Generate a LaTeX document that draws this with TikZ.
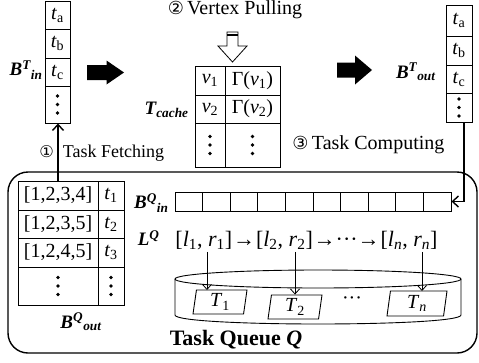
\documentclass[tikz,border=0pt]{standalone}
\usepackage{fontspec}
\setmainfont{Liberation Serif}
\newfontfamily\circfont[Scale=0.9]{DejaVu Sans}
\usetikzlibrary{arrows.meta,shapes.geometric}
\newcommand\fsz[1]{\fontsize{#1}{#1}\selectfont}
\newcommand\tsub[2]{\textit{#1}\textsubscript{#2}}
\tikzset{
  cell/.style 2 args={draw, inner sep=0pt, minimum width=#1, minimum height=#2, anchor=center, font=\fsz{20}},
  lbl/.style={inner sep=0pt, font=\fsz{19}\bfseries\itshape},
  arr/.style={-{Straight Barb[length=5pt,width=9pt]}, line width=0.8pt},
  barr/.style={-{Straight Barb[length=6pt,width=11pt]}, line width=1.4pt},
  task/.style={draw, trapezium, trapezium left angle=78, trapezium right angle=102, trapezium stretches body, inner sep=0pt, font=\fsz{20}},
}
\newcommand\vdts[1]{\fill (#1) ++(0,-8.5) circle (1.8pt) (#1) circle (1.8pt) (#1) ++(0,8.5) circle (1.8pt);}
\begin{document}
\begin{tikzpicture}[x=1pt,y=-1pt,line width=0.9pt]
\useasboundingbox (0,0) rectangle (479,362);

% ---------- B^T_in ----------
\node[cell={25pt}{28pt}] (bi1) at (57.5,15) {\tsub{t}{a}};
\node[cell={25pt}{29pt}] (bi2) at (57.5,43.5) {\tsub{t}{b}};
\node[cell={25pt}{28pt}] (bi3) at (57.5,72) {\tsub{t}{c}};
\node[cell={25pt}{37pt}] (bi4) at (57.5,104.5) {};
\vdts{bi4}
\node[lbl, anchor=east] (lbin) at (43,70) {B\textsuperscript{T}\textsubscript{in}};

% ---------- black arrows ----------
\fill (87,65) -- (106.5,65) -- (106.5,60.5) -- (124,72.5) -- (106.5,84.5) -- (106.5,80) -- (87,80) -- cycle;
\fill (337,62.5) -- (355,62.5) -- (355,55.5) -- (372,70) -- (355,84.5) -- (355,77.5) -- (337,77.5) -- cycle;

% ---------- Vertex pulling ----------
\node[inner sep=0pt, font=\fsz{20}] (vp) at (235,10) {{\circfont②}\,Vertex Pulling};
\draw[line width=0.8pt] (227,32) -- (227,46) -- (218,46) -- (232.5,62) -- (247,46) -- (238,46) -- (238,32) -- cycle;
\draw[line width=1.2pt] (227,35) -- (238,35);

% ---------- T_cache ----------
\node[cell={30pt}{29pt}] (c11) at (210,80.5) {\tsub{v}{1}};
\node[cell={55pt}{29pt}] (c12) at (252.5,80.5) {Γ(\tsub{v}{1})};
\node[cell={30pt}{28pt}] (c21) at (210,109) {\tsub{v}{2}};
\node[cell={55pt}{28pt}] (c22) at (252.5,109) {Γ(\tsub{v}{2})};
\node[cell={30pt}{44pt}] (c31) at (210,145) {};
\node[cell={55pt}{44pt}] (c32) at (252.5,145) {};
\vdts{c31}
\vdts{c32}
\node[lbl, anchor=east] (ltc) at (189,110) {T\textsubscript{cache}};

% ---------- B^T_out ----------
\node[cell={26pt}{31pt}] (bo1) at (459,20.5) {\tsub{t}{a}};
\node[cell={26pt}{29pt}] (bo2) at (459,50.5) {\tsub{t}{b}};
\node[cell={26pt}{28pt}] (bo3) at (459,79) {\tsub{t}{c}};
\node[cell={26pt}{29pt}] (bo4) at (459,107.5) {};
\vdts{bo4}
\node[lbl, anchor=east] (lbout) at (436,72) {B\textsuperscript{T}\textsubscript{out}};

% ---------- step labels ----------
\node[inner sep=0pt, anchor=west, font=\fsz{20}] (tc) at (292,145) {{\circfont③}\,Task Computing};
\node[inner sep=0pt, anchor=west, font=\fsz{18}] (tf) at (39,153) {{\circfont①}\hspace{9pt}Task Fetching};

% ---------- Task queue frame ----------
\draw[line width=1.4pt, rounded corners=20pt] (8,172) rectangle (477,353);

% ---------- B^Q_out ----------
\node[cell={80pt}{29pt}] (q11) at (58,195.5) {[1,2,3,4]};
\node[cell={26pt}{29pt}] (q12) at (111,195.5) {\tsub{t}{1}};
\node[cell={80pt}{28pt}] (q21) at (58,224) {[1,2,3,5]};
\node[cell={26pt}{28pt}] (q22) at (111,224) {\tsub{t}{2}};
\node[cell={80pt}{29pt}] (q31) at (58,252.5) {[1,2,4,5]};
\node[cell={26pt}{29pt}] (q32) at (111,252.5) {\tsub{t}{3}};
\node[cell={80pt}{38pt}] (q41) at (58,286) {};
\node[cell={26pt}{38pt}] (q42) at (111,286) {};
\vdts{q41}
\vdts{q42}
\node[lbl] (lbqo) at (81,322) {B\textsuperscript{Q}\textsubscript{out}};

% ---------- B^Q_in ----------
\foreach \i in {1,...,10}{
  \node[cell={27.6pt}{19pt}] (qi\i) at ({175+27.6*(\i-0.5)},201.5) {};
}
\node[lbl, anchor=east] (lbqi) at (169,203) {B\textsuperscript{Q}\textsubscript{in}};

% ---------- L^Q list ----------
\node[lbl, anchor=east] (llq) at (160,238) {L\textsuperscript{Q}};
\begin{scope}[every node/.style={inner sep=0pt, font=\fsz{22}}]
\node[anchor=base west] (p1) at (175,246) {[\tsub{l}{1}, \tsub{r}{1}]};
\node[anchor=base west] (a1) at (p1.base east) {→};
\node[anchor=base west] (p2) at (a1.base east) {[\tsub{l}{2}, \tsub{r}{2}]};
\node[anchor=base west] (a2) at (p2.base east) {→···→};
\node[anchor=base west] (pn) at (a2.base east) {[\tsub{l}{\textit{n}}, \tsub{r}{\textit{n}}]};
\end{scope}

% ---------- cylinder ----------
\draw (318,279) ellipse [x radius=143pt, y radius=9pt];
\draw (175,279) -- (175,315) .. controls (175,327) and (461,327) .. (461,315) -- (461,279);

% ---------- tasks ----------
\node[task, minimum width=54pt, minimum height=24pt] (t1) at (220,302) {\tsub{T}{1}};
\node[task, minimum width=54pt, minimum height=24pt] (t2) at (295,307) {\tsub{T}{2}};
\node[task, minimum width=60pt, minimum height=25pt] (tn) at (417,303.5) {\tsub{T}{\textit{n}}};
\node[inner sep=0pt, font=\fsz{20}] (tdots) at (352,301) {···};

\draw[arr] (p1.south -| 207,0) ++(0,2) -- (207,290);
\draw[arr] ([yshift=-2pt]p2.south -| t2.north) -- (t2.north);
\draw[arr] ([yshift=-2pt]pn.south -| 422,0) -- (422,291);

% ---------- Task Queue label ----------
\node[inner sep=0pt, font=\fsz{22}\bfseries] (tq) at (236,340) {Task Queue \textit{Q}};

% ---------- connectors ----------
\draw[barr] (q11.north) -- (q11.north |- bi4.south);
\draw[barr] ([xshift=5pt]bo4.south) |- (qi10.east);
\end{tikzpicture}
\end{document}
